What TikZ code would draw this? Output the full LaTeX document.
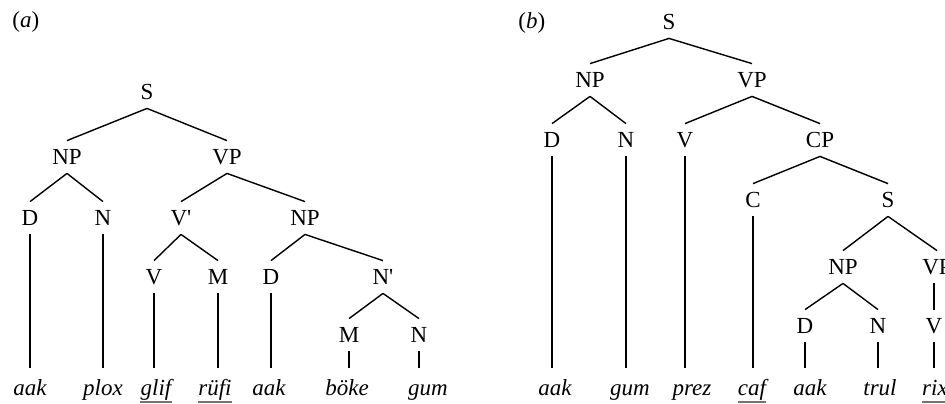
\documentclass[tikz,border=0pt]{standalone}
\usepackage{fontspec}
\setmainfont[Ligatures=TeXOff]{Liberation Serif}
\begin{document}
\begin{tikzpicture}[x=0.5pt,y=-0.5pt,
  cat/.style={font=\fontsize{11.5pt}{13pt}\selectfont, text height=7.6pt, text depth=0pt,
    inner xsep=0pt, inner ysep=4.2pt, anchor=center},
  word/.style={font=\fontsize{11.5pt}{13pt}\selectfont\itshape, text height=8pt, text depth=2pt,
    inner xsep=0pt, inner ysep=5.5pt, anchor=base},
  panel/.style={font=\fontsize{11.5pt}{13pt}\selectfont, inner sep=0pt, anchor=base west},
  branch/.style={draw=black, line width=0.7pt},
  uline/.style={draw=black!55, line width=1pt}]
\useasboundingbox (0,0) rectangle (945,403);

% ---------- tree (a) ----------
\node[panel] (la) at (12,27) {(\textit{a})};
\node[cat] (aS)   at (147,92)  {S};
\node[cat] (aNP)  at (67,157)  {NP};
\node[cat] (aVP)  at (227,157) {VP};
\node[cat] (aD)   at (30,218)  {D};
\node[cat] (aN)   at (103,218) {N};
\node[cat] (aVb)  at (181,218) {V'};
\node[cat] (aNP2) at (305,218) {NP};
\node[cat] (aV)   at (154,277) {V};
\node[cat] (aM)   at (218,277) {M};
\node[cat] (aD2)  at (271,277) {D};
\node[cat] (aNb)  at (383,277) {N'};
\node[cat] (aM2)  at (349,335) {M};
\node[cat] (aN2)  at (419,335) {N};

\node[word] (aw1) at (30,395)  {aak};
\node[word] (aw2) at (103,395) {plox};
\node[word] (aw3) at (156,395) {glif};
\node[word] (aw4) at (215,395) {rüfi};
\node[word] (aw5) at (269,395) {aak};
\node[word] (aw6) at (347,395) {böke};
\node[word] (aw7) at (428,395) {gum};

\draw[branch] (aS.south) -- (aNP.north);
\draw[branch] (aS.south) -- (aVP.north);
\draw[branch] (aNP.south) -- (aD.north);
\draw[branch] (aNP.south) -- (aN.north);
\draw[branch] (aVP.south) -- (aVb.north);
\draw[branch] (aVP.south) -- (aNP2.north);
\draw[branch] (aVb.south) -- (aV.north);
\draw[branch] (aVb.south) -- (aM.north);
\draw[branch] (aNP2.south) -- (aD2.north);
\draw[branch] (aNP2.south) -- (aNb.north);
\draw[branch] (aNb.south) -- (aM2.north);
\draw[branch] (aNb.south) -- (aN2.north);
\draw[branch] (aD.south) -- (aD.south |- aw1.north);
\draw[branch] (aN.south) -- (aN.south |- aw2.north);
\draw[branch] (aV.south) -- (aV.south |- aw3.north);
\draw[branch] (aM.south) -- (aM.south |- aw4.north);
\draw[branch] (aD2.south) -- (aD2.south |- aw5.north);
\draw[branch] (aM2.south) -- (aM2.south |- aw6.north);
\draw[branch] (aN2.south) -- (aN2.south |- aw7.north);

\draw[uline] ([yshift=-3.5pt]aw3.base west) -- ([yshift=-3.5pt]aw3.base east);
\draw[uline] ([yshift=-3.5pt]aw4.base west) -- ([yshift=-3.5pt]aw4.base east);

% ---------- tree (b) ----------
\node[panel] (lb) at (518,28) {(\textit{b})};
\node[cat] (bS)   at (669,22)  {S};
\node[cat] (bNP)  at (590,80)  {NP};
\node[cat] (bVP)  at (752,80)  {VP};
\node[cat] (bD)   at (552,140) {D};
\node[cat] (bN)   at (626,140) {N};
\node[cat] (bV)   at (685,140) {V};
\node[cat] (bCP)  at (820,140) {CP};
\node[cat] (bC)   at (753,200) {C};
\node[cat] (bS2)  at (888,200) {S};
\node[cat] (bNP2) at (843,267) {NP};
\node[cat] (bVP2) at (937,267) {VP};
\node[cat] (bD2)  at (805,326) {D};
\node[cat] (bN2)  at (878,326) {N};
\node[cat] (bV2)  at (934,326) {V};

\node[word] (bw1) at (555,395) {aak};
\node[word] (bw2) at (630,395) {gum};
\node[word] (bw3) at (692,395) {prez};
\node[word] (bw4) at (752,395) {caf};
\node[word] (bw5) at (810,395) {aak};
\node[word] (bw6) at (880,395) {trul};
\node[word] (bw7) at (935,395) {rix};

\draw[branch] (bS.south) -- (bNP.north);
\draw[branch] (bS.south) -- (bVP.north);
\draw[branch] (bNP.south) -- (bD.north);
\draw[branch] (bNP.south) -- (bN.north);
\draw[branch] (bVP.south) -- (bV.north);
\draw[branch] (bVP.south) -- (bCP.north);
\draw[branch] (bCP.south) -- (bC.north);
\draw[branch] (bCP.south) -- (bS2.north);
\draw[branch] (bS2.south) -- (bNP2.north);
\draw[branch] (bS2.south) -- (bVP2.north);
\draw[branch] (bNP2.south) -- (bD2.north);
\draw[branch] (bNP2.south) -- (bN2.north);
\draw[branch] ([xshift=-1.5pt]bVP2.south) -- ([xshift=-1.5pt]bVP2.south |- bV2.north);
\draw[branch] (bD.south) -- (bD.south |- bw1.north);
\draw[branch] (bN.south) -- (bN.south |- bw2.north);
\draw[branch] (bV.south) -- (bV.south |- bw3.north);
\draw[branch] (bC.south) -- (bC.south |- bw4.north);
\draw[branch] (bD2.south) -- (bD2.south |- bw5.north);
\draw[branch] (bN2.south) -- (bN2.south |- bw6.north);
\draw[branch] (bV2.south) -- (bV2.south |- bw7.north);

\draw[uline] ([yshift=-3.5pt]bw4.base west) -- ([yshift=-3.5pt]bw4.base east);
\draw[uline] ([yshift=-3.5pt]bw7.base west) -- ([yshift=-3.5pt]bw7.base east);
\end{tikzpicture}
\end{document}
